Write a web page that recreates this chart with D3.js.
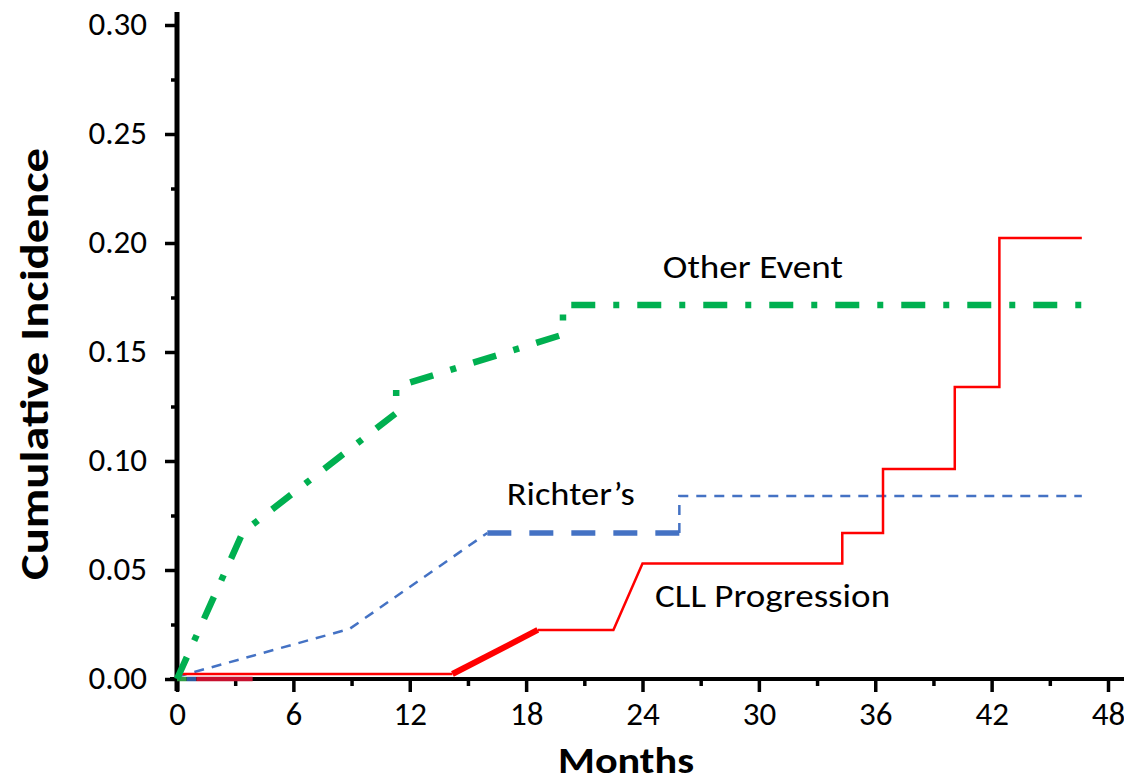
<!DOCTYPE html>
<html>
<head>
<meta charset="utf-8">
<script src="https://cdn.jsdelivr.net/npm/d3@7"></script>
<style>
  html, body { margin: 0; padding: 0; background: #fff; }
  svg { display: block; font-family: Carlito, Lato, "Open Sans", sans-serif; }
</style>
</head>
<body>
<svg id="chart" width="1124" height="783"></svg>
<script>
// ---- data (months, cumulative incidence) ----
const xTicks = [0, 6, 12, 18, 24, 30, 36, 42, 48];
const xMinorTicks = [3, 9, 15, 21, 27, 33, 39, 45];
const yTicks = [0, 0.05, 0.10, 0.15, 0.20, 0.25, 0.30];
const yMinorTicks = [0.025, 0.075, 0.125, 0.175, 0.225, 0.275];

const otherEvent = [
  [0, 0], [3.4, 0.0674], [11.3, 0.122], [11.3, 0.134],
  [19.9, 0.158], [19.9, 0.1716], [46.65, 0.1716]
];
const richterThinA = [[0, 0.001], [8.9, 0.023], [16.0, 0.067]];
const richterThick = [[16.0, 0.067], [25.9, 0.067]];
const richterThinB = [[25.9, 0.067], [25.9, 0.084], [46.65, 0.084]];
const cllThinA = [[0, 0.0023], [14.2, 0.0023]];
const cllThick = [[14.2, 0.0023], [18.6, 0.0225]];
const cllThinB = [
  [18.6, 0.0225], [22.5, 0.0225], [24.0, 0.053], [34.3, 0.053],
  [34.3, 0.067], [36.4, 0.067], [36.4, 0.0963], [40.1, 0.0963],
  [40.1, 0.134], [42.4, 0.134], [42.4, 0.2023], [46.65, 0.2023]
];
// short coloured pieces lying on the x axis near the origin
const baseSegs = [
  { name: "green", from: 0, to: 0.5 },
  { name: "blue", from: 0.5, to: 1.0 },
  { name: "crimson", from: 1.0, to: 3.9 }
];
const labels = [
  { text: "Other Event", m: 25.05, v: 0.184 },
  { text: "Richter\u2019s", m: 17.0, v: 0.0798 },
  { text: "CLL Progression", m: 24.65, v: 0.033 }
];
const labelWidths = { "Other Event": 180, "Richter\u2019s": 128, "CLL Progression": 235 };

// ---- scales ----
const FONT = 'Carlito, Lato, "Open Sans", sans-serif';
const svg = d3.select("#chart");
const x = d3.scaleLinear().domain([0, 48]).range([177, 1108]);
const y = d3.scaleLinear().domain([0, 0.30]).range([679, 25]);
const line = d3.line().x(d => x(d[0])).y(d => y(d[1]));

// ---- axes ----
svg.append("line")
  .attr("x1", x(0) - 7).attr("x2", 1124)
  .attr("y1", y(0)).attr("y2", y(0))
  .attr("stroke", "#000").attr("stroke-width", 4);
svg.append("line")
  .attr("x1", x(0)).attr("x2", x(0))
  .attr("y1", y(0) + 12).attr("y2", y(0.30) - 13)
  .attr("stroke", "#000").attr("stroke-width", 5);

const xAxis = svg.append("g").attr("transform", `translate(0,${y(0)})`)
  .call(d3.axisBottom(x).tickValues(xTicks).tickSize(13).tickPadding(26).tickFormat(d3.format("d")))
  .attr("font-family", FONT);
xAxis.select(".domain").remove();
xAxis.selectAll(".tick line").attr("stroke", "#000").attr("stroke-width", 3.5);
xAxis.selectAll(".tick text").attr("font-size", 33).attr("fill", "#000").attr("dy", "0.2em");

const xMinor = svg.append("g").attr("transform", `translate(0,${y(0)})`)
  .call(d3.axisBottom(x).tickValues(xMinorTicks).tickSize(7).tickFormat(""));
xMinor.select(".domain").remove();
xMinor.selectAll(".tick line").attr("stroke", "#000").attr("stroke-width", 3.5);

const yAxis = svg.append("g").attr("transform", `translate(${x(0)},0)`)
  .call(d3.axisLeft(y).tickValues(yTicks).tickSize(12).tickPadding(18).tickFormat(d3.format(".2f")))
  .attr("font-family", FONT);
yAxis.select(".domain").remove();
yAxis.selectAll(".tick line").attr("stroke", "#000").attr("stroke-width", 3.5);
yAxis.selectAll(".tick text").attr("font-size", 33).attr("fill", "#000").attr("dy", "0.3em");

const yMinor = svg.append("g").attr("transform", `translate(${x(0)},0)`)
  .call(d3.axisLeft(y).tickValues(yMinorTicks).tickSize(6).tickFormat(""));
yMinor.select(".domain").remove();
yMinor.selectAll(".tick line").attr("stroke", "#000").attr("stroke-width", 3.5);

// ---- axis titles ----
svg.append("text")
  .attr("transform", `translate(48,${(y(0) + y(0.30)) / 2 + 12}) rotate(-90)`)
  .attr("text-anchor", "middle")
  .attr("font-size", 40).attr("font-weight", "bold")
  .attr("textLength", 432).attr("lengthAdjust", "spacingAndGlyphs")
  .text("Cumulative Incidence");
svg.append("text")
  .attr("x", 626).attr("y", 773)
  .attr("text-anchor", "middle")
  .attr("font-size", 36).attr("font-weight", "bold")
  .attr("textLength", 136).attr("lengthAdjust", "spacingAndGlyphs")
  .text("Months");

// ---- series ----
const baseColor = { green: "#2f9e44", blue: "#2b5aa0", crimson: "#c8102e" };
svg.append("g").selectAll("line").data(baseSegs).join("line")
  .attr("x1", d => x(d.from)).attr("x2", d => x(d.to))
  .attr("y1", y(0)).attr("y2", y(0))
  .attr("stroke", d => baseColor[d.name]).attr("stroke-width", 4.5);

// Richter's
svg.append("path").attr("d", line(richterThinA)).attr("fill", "none")
  .attr("stroke", "#4472c4").attr("stroke-width", 2.5).attr("stroke-dasharray", "10,8");
svg.append("path").attr("d", line(richterThick)).attr("fill", "none")
  .attr("stroke", "#4472c4").attr("stroke-width", 5.5).attr("stroke-dasharray", "24,18");
svg.append("path").attr("d", line(richterThinB)).attr("fill", "none")
  .attr("stroke", "#4472c4").attr("stroke-width", 2.5).attr("stroke-dasharray", "10,8");

// CLL progression
svg.append("path").attr("d", line(cllThinA)).attr("fill", "none")
  .attr("stroke", "#ff0000").attr("stroke-width", 2.5);
svg.append("path").attr("d", line(cllThick)).attr("fill", "none")
  .attr("stroke", "#ff0000").attr("stroke-width", 6);
svg.append("path").attr("d", line(cllThinB)).attr("fill", "none")
  .attr("stroke", "#ff0000").attr("stroke-width", 2.5);

// Other event
svg.append("path").attr("d", line(otherEvent)).attr("fill", "none")
  .attr("stroke", "#00b050").attr("stroke-width", 6.5).attr("stroke-dasharray", "24,18,6,18");

// ---- series labels ----
svg.append("g").selectAll("text").data(labels).join("text")
  .attr("x", d => x(d.m)).attr("y", d => y(d.v))
  .attr("font-size", 32).attr("fill", "#000")
  .attr("textLength", d => labelWidths[d.text]).attr("lengthAdjust", "spacingAndGlyphs")
  .text(d => d.text);
</script>
</body>
</html>
